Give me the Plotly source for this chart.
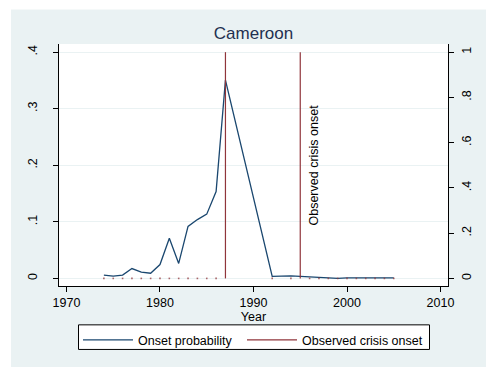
import plotly.graph_objects as go

# Cameroon: predicted onset probability vs. observed crisis onsets
years = [1974, 1975, 1976, 1977, 1978, 1979, 1980, 1981, 1982, 1983, 1984, 1985, 1986, 1987,
         1992, 1994, 1995, 1996, 1997, 1998, 1999, 2000, 2001, 2002, 2003, 2004, 2005]
onset_prob = [0.006, 0.0042, 0.006, 0.0174, 0.011, 0.0092, 0.0245, 0.071, 0.0265, 0.092,
              0.104, 0.1136, 0.1536, 0.3506,
              0.0035, 0.0045, 0.0035, 0.0025, 0.0012, 0.0003, 0.0002, 0.0008, 0.0008,
              0.0008, 0.0008, 0.0008, 0.0008]
crisis_onset = [0] * 13 + [1] + [0, 0, 1] + [0] * 10

x_ticks = [1970, 1980, 1990, 2000, 2010]
y_ticks = [0, 0.1, 0.2, 0.3, 0.4]
y_tick_text = ["0", ".1", ".2", ".3", ".4"]
y2_ticks = [0, 0.2, 0.4, 0.6, 0.8, 1.0]
y2_tick_text = ["0", ".2", ".4", ".6", ".8", "1"]

NAVY = "#1a476f"
MAROON = "#90353b"
REGION = "#eaf2f3"
FONT = "Liberation Sans, Arial, sans-serif"

# page geometry (px) used to place the legend frame and margins
W, H = 486, 367
ML, MR, MT, MB = 59, 38, 44, 77
PW, PH = W - ML - MR, H - MT - MB


def px_x(px):
    return (px - ML) / PW


def px_y(py):
    return (H - MB - py) / PH


# spikes for onset years, dots at zero for the rest
spike_x, spike_y = [], []
zero_x, zero_y = [], []
for yr, v in zip(years, crisis_onset):
    if v > 0:
        spike_x += [yr, yr, None]
        spike_y += [0, v, None]
    else:
        zero_x.append(yr)
        zero_y.append(v)

fig = go.Figure()
fig.add_trace(go.Scatter(x=years, y=onset_prob, mode="lines", name="Onset probability",
                         line=dict(color=NAVY, width=1.3), legend="legend"))
fig.add_trace(go.Scatter(x=spike_x, y=spike_y, mode="lines", name="Observed crisis onset",
                         line=dict(color=MAROON, width=1.2), yaxis="y2", legend="legend2"))
fig.add_trace(go.Scatter(x=zero_x, y=zero_y, mode="markers", showlegend=False, hoverinfo="skip",
                         marker=dict(color=MAROON, size=1.6, symbol="square", opacity=0.75),
                         yaxis="y2"))

legend_common = dict(orientation="h", yanchor="top", y=px_y(330), xanchor="left",
                     bgcolor="rgba(0,0,0,0)", borderwidth=0, font=dict(size=12.5),
                     itemwidth=50)

lo, hi = -0.0134, 0.4144
fig.update_layout(
    width=W, height=H,
    margin=dict(l=ML, r=MR, t=MT, b=MB),
    paper_bgcolor=REGION, plot_bgcolor="white",
    font=dict(family=FONT, size=12, color="black"),
    title=dict(text="Cameroon", x=0.5, xref="paper", xanchor="center",
               y=1 - 33 / H, yanchor="middle",
               font=dict(size=17, color="#1f3050")),
    xaxis=dict(range=[1969.2, 2010.8], tickvals=x_ticks, ticks="outside", ticklen=5,
               tickcolor="black", showline=True, linecolor="black", linewidth=1,
               showgrid=False, zeroline=False, tickfont=dict(size=12.5),
               title=dict(text="Year", standoff=0, font=dict(size=12.5))),
    yaxis=dict(range=[lo, hi], tickvals=y_ticks, ticktext=y_tick_text, tickangle=-90,
               ticks="outside", ticklen=5, tickcolor="black", showline=True,
               linecolor="black", linewidth=1, showgrid=True, gridcolor=REGION,
               gridwidth=1, zeroline=False, ticklabelstandoff=11, tickfont=dict(size=12.5)),
    yaxis2=dict(range=[lo * 2.5, hi * 2.5], tickvals=y2_ticks, ticktext=y2_tick_text,
                tickangle=-90, overlaying="y", side="right", ticks="outside", ticklen=5,
                tickcolor="black", showline=True, linecolor="black", linewidth=1,
                showgrid=False, zeroline=False, ticklabelstandoff=2, tickfont=dict(size=12.5)),
    legend=dict(x=px_x(78), **legend_common),
    legend2=dict(x=px_x(242), **legend_common),
    showlegend=True,
    annotations=[dict(x=1995, y=0.5, xref="x", yref="y2", text="Observed crisis onset",
                      textangle=-90, showarrow=False, xshift=14,
                      font=dict(size=12.5, color="black"))],
    shapes=[
        dict(type="rect", xref="paper", yref="paper", x0=-0.2, x1=px_x(11),
             y0=-0.4, y1=1.3, fillcolor="white", line=dict(width=0), layer="below"),
        dict(type="rect", xref="paper", yref="paper", x0=-0.2, x1=1.2,
             y0=px_y(9), y1=1.3, fillcolor="white", line=dict(width=0), layer="below"),
        # legend frame
        dict(type="rect", xref="paper", yref="paper", x0=px_x(78.5), x1=px_x(429.5),
             y0=px_y(354.5), y1=px_y(329.5), fillcolor="white",
             line=dict(color="black", width=1), layer="above"),
    ],
)

fig.write_html("out.html")
